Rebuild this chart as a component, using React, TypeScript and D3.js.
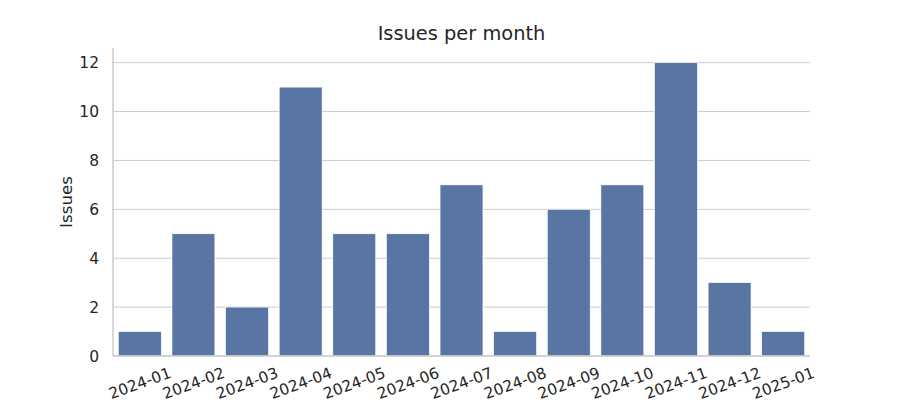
import React, { useRef, useEffect } from 'react';
import * as d3 from 'd3';

const months = [
  '2024-01', '2024-02', '2024-03', '2024-04', '2024-05', '2024-06', '2024-07',
  '2024-08', '2024-09', '2024-10', '2024-11', '2024-12', '2025-01',
];
const issues = [1, 5, 2, 11, 5, 5, 7, 1, 6, 7, 12, 3, 1];
const yTicks = [0, 2, 4, 6, 8, 10, 12];

const W = 900;
const H = 400;
const margin = { top: 48, right: 90, bottom: 44, left: 113 };
const font = 'DejaVu Sans, sans-serif';

const App: React.FC = () => {
  const svgRef = useRef<SVGSVGElement>(null);

  useEffect(() => {
    document.body.style.margin = '0';
    if (!svgRef.current) return;
    const svg = d3.select(svgRef.current);
    svg.selectAll('*').remove();

    const iw = W - margin.left - margin.right;
    const ih = H - margin.top - margin.bottom;

    const x = d3.scaleBand()
      .domain(months)
      .range([0, iw])
      .paddingInner(0.2)
      .paddingOuter(0.1);

    const y = d3.scaleLinear()
      .domain([0, 12.6])
      .range([ih, 0]);

    svg.append('rect').attr('width', W).attr('height', H).attr('fill', '#ffffff');

    const g = svg.append('g')
      .attr('transform', `translate(${margin.left},${margin.top})`);

    // grid
    g.selectAll('.grid')
      .data(yTicks)
      .enter().append('line')
      .attr('x1', 0)
      .attr('x2', iw)
      .attr('y1', d => y(d))
      .attr('y2', d => y(d))
      .attr('stroke', '#cccccc')
      .attr('stroke-width', 1);

    // bars
    g.selectAll('.bar')
      .data(issues)
      .enter().append('rect')
      .attr('x', (_, i) => x(months[i]) || 0)
      .attr('width', x.bandwidth())
      .attr('y', d => y(d))
      .attr('height', d => ih - y(d))
      .attr('fill', '#5975a4')
      .attr('stroke', '#ffffff')
      .attr('stroke-width', 0.6);

    // spines
    g.append('line')
      .attr('x1', 0).attr('x2', 0).attr('y1', 0).attr('y2', ih)
      .attr('stroke', '#cccccc').attr('stroke-width', 1.5);
    g.append('line')
      .attr('x1', 0).attr('x2', iw).attr('y1', ih).attr('y2', ih)
      .attr('stroke', '#cccccc').attr('stroke-width', 1.5);

    // y tick labels
    g.selectAll('.ytick')
      .data(yTicks)
      .enter().append('text')
      .attr('x', -14)
      .attr('y', d => y(d))
      .attr('dy', '0.36em')
      .attr('text-anchor', 'end')
      .attr('font-family', font)
      .attr('font-size', 15.5)
      .attr('fill', '#262626')
      .text(d => String(d));

    // x tick labels, rotated 20deg, centred under each bar
    g.selectAll('.xtick')
      .data(months)
      .enter().append('text')
      .attr('transform', d => `translate(${(x(d) || 0) + x.bandwidth() / 2},${ih + 27}) rotate(-20)`)
      .attr('text-anchor', 'middle')
      .attr('dy', '0.36em')
      .attr('font-family', font)
      .attr('font-size', 15.5)
      .attr('fill', '#262626')
      .text(d => d);

    // y axis label
    g.append('text')
      .attr('transform', `translate(${-41},${ih / 2}) rotate(-90)`)
      .attr('text-anchor', 'middle')
      .attr('font-family', font)
      .attr('font-size', 16.7)
      .attr('fill', '#262626')
      .text('Issues');

    // title
    svg.append('text')
      .attr('x', margin.left + iw / 2)
      .attr('y', 40)
      .attr('text-anchor', 'middle')
      .attr('font-family', font)
      .attr('font-size', 19.4)
      .attr('fill', '#262626')
      .text('Issues per month');
  }, []);

  return <svg ref={svgRef} width={W} height={H} style={{ display: 'block' }} />;
};

export default App;
